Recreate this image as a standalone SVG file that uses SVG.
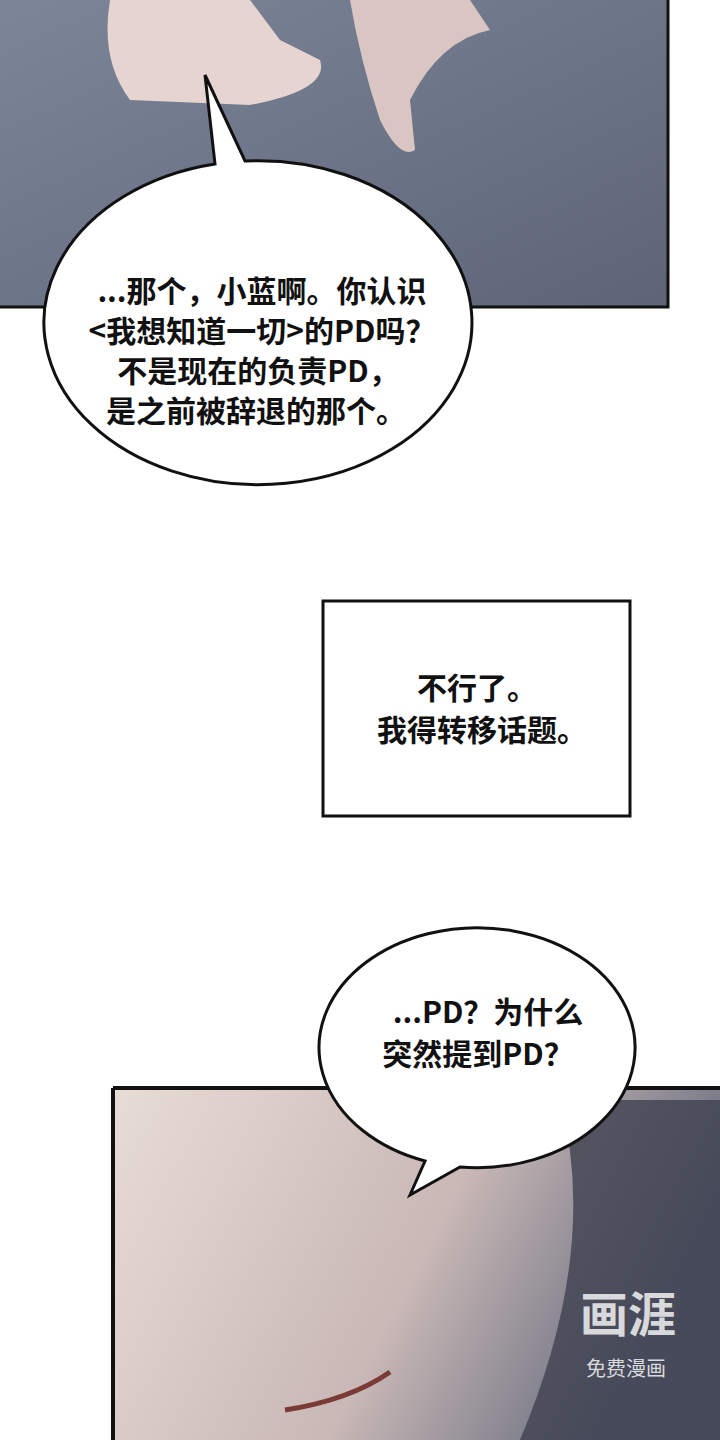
<svg xmlns="http://www.w3.org/2000/svg" width="720" height="1440" viewBox="0 0 720 1440">
<defs>
<linearGradient id="bed" x1="0" y1="0" x2="1" y2="1"><stop offset="0" stop-color="#7d8598"/><stop offset="1" stop-color="#5d6478"/></linearGradient>
<linearGradient id="face" x1="0" y1="0" x2="1" y2="0.3"><stop offset="0" stop-color="#e8dcd6"/><stop offset="0.6" stop-color="#c9b8b6"/><stop offset="1" stop-color="#6a6f80"/></linearGradient>
<style>
.t{font-family:"Noto Sans CJK SC","Noto Sans",sans-serif;font-weight:bold;font-size:30px;fill:#111;text-anchor:middle}
.b{fill:#fff;stroke:#111;stroke-width:3}
</style>
</defs>
<rect width="720" height="1440" fill="#fff"/>
<g id="panel1">
<rect x="0" y="0" width="668" height="307" fill="url(#bed)"/>
<path d="M110 0 Q100 60 130 100 L250 105 Q330 90 320 60 L280 40 Q250 0 250 0Z" fill="#e6d4d0"/>
<path d="M350 0 Q360 60 380 120 Q400 160 415 150 L410 100 Q440 40 490 30 L470 0Z" fill="#d9c6c3"/>
<path d="M0 307 H668 V0" fill="none" stroke="#111" stroke-width="3"/>
</g>
<g id="panel2">
<rect x="113" y="1088" width="607" height="352" fill="url(#face)"/>
<path d="M560 1100 Q600 1250 520 1440 H720 V1100Z" fill="#3f4150" opacity="0.8"/>
<path d="M285 1410 Q350 1400 390 1372" fill="none" stroke="#7a3a35" stroke-width="5"/>
<path d="M113 1088 H720 M113 1088 V1440" fill="none" stroke="#111" stroke-width="4"/>
<text x="628" y="1332" font-family="Noto Sans CJK SC,sans-serif" font-size="48" font-weight="bold" fill="#f4f4f4" fill-opacity="0.85" text-anchor="middle">画涯</text>
<text x="626" y="1376" font-family="Noto Sans CJK SC,sans-serif" font-size="20" fill="#f4f4f4" fill-opacity="0.85" text-anchor="middle">免费漫画</text>
</g>
<g id="bubble1">
<path class="b" d="M205 75 L245 161 A214 162 0 1 1 215 164 Z"/>
<text class="t" x="262" y="302">...那个，小蓝啊。你认识</text>
<text class="t" x="262" y="342">&lt;我想知道一切&gt;的PD吗？</text>
<text class="t" x="258" y="382">不是现在的负责PD，</text>
<text class="t" x="256" y="422">是之前被辞退的那个。</text>
</g>
<g id="box">
<rect x="323" y="601" width="307" height="215" fill="#fff" stroke="#111" stroke-width="3"/>
<text class="t" x="477" y="699">不行了。</text>
<text class="t" x="482" y="741">我得转移话题。</text>
</g>
<g id="bubble3">
<path class="b" d="M410 1195 L425 1161 A158 120 0 1 1 460 1167 Z"/>
<text class="t" x="488" y="1023">...PD？为什么</text>
<text class="t" x="478" y="1065">突然提到PD？</text>
</g>
</svg>
